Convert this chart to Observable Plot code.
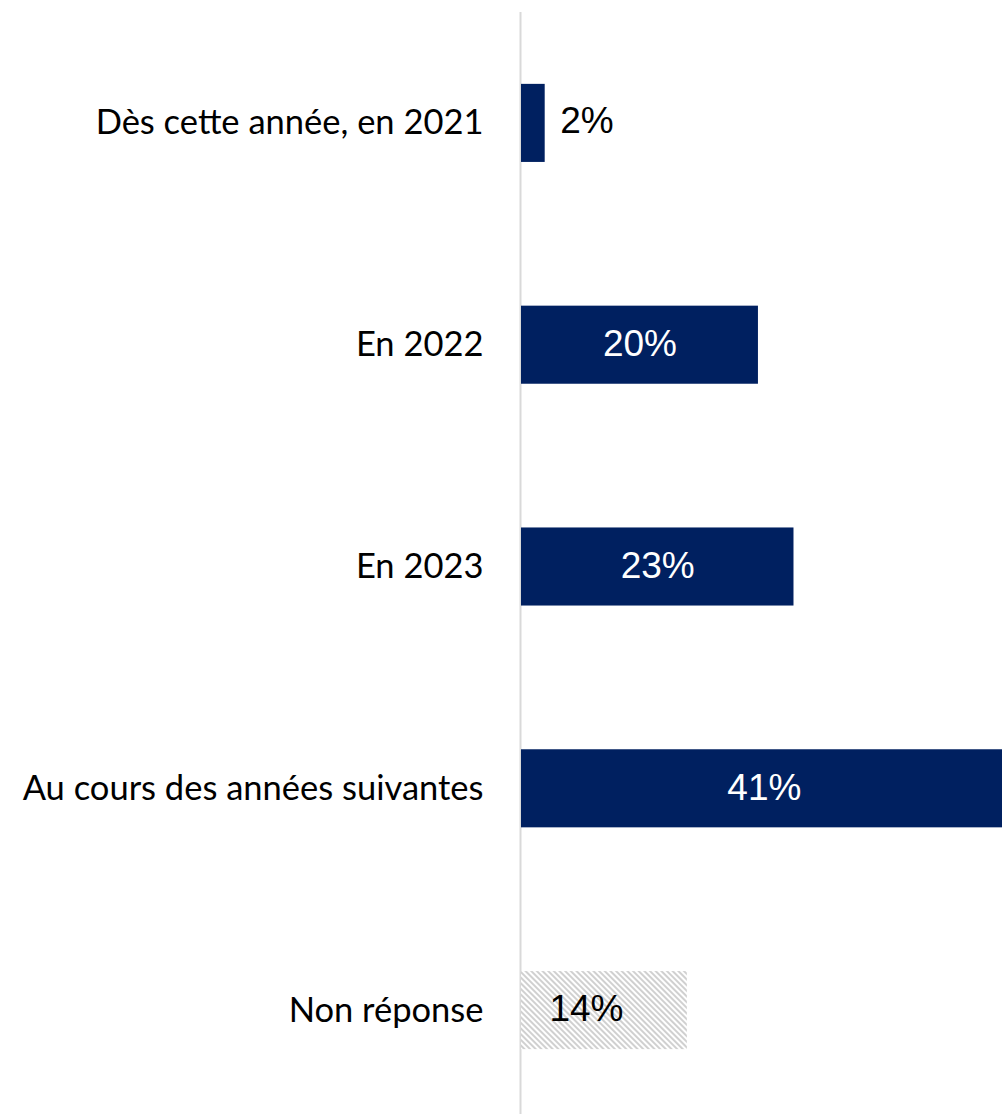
<!DOCTYPE html>
<html><head><meta charset="utf-8">
<script src="https://cdn.jsdelivr.net/npm/d3@7"></script>
<script src="https://cdn.jsdelivr.net/npm/@observablehq/plot@0.6"></script>
<style>body{margin:0;background:#fff;overflow:hidden}</style>
</head><body><div id="chart"></div>
<script>
const categories = ["Dès cette année, en 2021", "En 2022", "En 2023", "Au cours des années suivantes", "Non réponse"];
const values = [2, 20, 23, 41, 14];
const valueLabels = ["2%", "20%", "23%", "41%", "14%"];
const isNonResponse = [false, false, false, false, true];

const data = categories.map((c, i) => ({category: c, value: values[i], label: valueLabels[i], nr: isNonResponse[i]}));
const navy = "#002060";
const labelFont = "Lato, 'Open Sans', sans-serif";
const valueFont = "'Liberation Sans', Arial, sans-serif";

const chart = Plot.plot({
  width: 1002, height: 1114,
  marginLeft: 521, marginRight: 0, marginTop: 12, marginBottom: 0,
  x: {domain: [0, 40.6], axis: null},
  y: {domain: categories, range: [12, 1121], round: false, paddingInner: 0.648, paddingOuter: 0.324, axis: null},
  marks: [
    Plot.ruleX([0], {stroke: "#d9d9d9", strokeWidth: 2, dx: -1}),
    Plot.barX(data.filter(d => !d.nr), {x: "value", y: "category", fill: navy, clip: true}),
    Plot.barX(data.filter(d => d.nr), {x: "value", y: "category", fill: "url(#hatch)"}),
    Plot.axisY({tickSize: 0, tickPadding: 38, fontSize: 34.5, fontFamily: labelFont, fill: "#000", label: null}),
    Plot.text(data.filter(d => !d.nr && d.value >= 10), {x: d => d.value / 2, y: "category", text: "label", fill: "#fff", fontSize: 37, fontFamily: valueFont, dy: -1}),
    Plot.text(data.filter(d => !d.nr && d.value < 10), {x: "value", y: "category", text: "label", fill: "#000", textAnchor: "start", dx: 15, fontSize: 37, fontFamily: valueFont, dy: -2}),
    Plot.text(data.filter(d => d.nr), {x: d => d.value / 2, y: "category", text: "label", fill: "#000", dx: -18, fontSize: 37, fontFamily: valueFont, dy: -1})
  ]
});

const svgNS = "http://www.w3.org/2000/svg";
const defs = document.createElementNS(svgNS, "defs");
defs.innerHTML = '<pattern id="hatch" patternUnits="userSpaceOnUse" width="4" height="4" patternTransform="rotate(-45)"><rect width="4" height="4" fill="#ffffff"/><rect width="2" height="4" fill="#d0d0d0"/></pattern>';
chart.insertBefore(defs, chart.firstChild);
document.getElementById("chart").appendChild(chart);
</script>
</body></html>
